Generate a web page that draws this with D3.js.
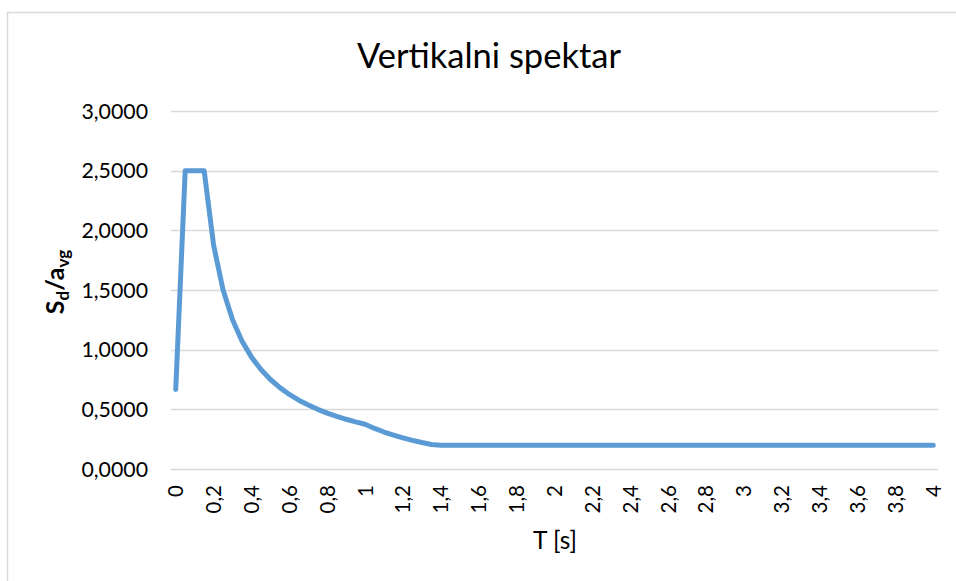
<!DOCTYPE html>
<html>
<head>
<meta charset="utf-8">
<script src="https://cdn.jsdelivr.net/npm/d3@7/dist/d3.min.js"></script>
<style>
  html, body { margin: 0; padding: 0; background: #fff; }
  svg { display: block; }
  text { font-family: Lato, "Open Sans", sans-serif; fill: #000; }
</style>
</head>
<body>
<svg id="chart" width="956" height="581"></svg>
<script>
// ---- data ----
const periods = [
  "0","0,05","0,1","0,15","0,2","0,25","0,3","0,35","0,4","0,45",
  "0,5","0,55","0,6","0,65","0,7","0,75","0,8","0,85","0,9","0,95",
  "1","1,05","1,1","1,15","1,2","1,25","1,3","1,35","1,4","1,45",
  "1,5","1,55","1,6","1,65","1,7","1,75","1,8","1,85","1,9","1,95",
  "2","2,05","2,1","2,15","2,2","2,25","2,3","2,35","2,4","2,45",
  "2,5","2,55","2,6","2,65","2,7","2,75","2,8","2,85","2,9","2,95",
  "3","3,05","3,1","3,15","3,2","3,25","3,3","3,35","3,4","3,45",
  "3,5","3,55","3,6","3,65","3,7","3,75","3,8","3,85","3,9","3,95","4"
];
const sdValues = [
  0.6667, 2.5000, 2.5000, 2.5000, 1.8750, 1.5000, 1.2500, 1.0714, 0.9375, 0.8333,
  0.7500, 0.6818, 0.6250, 0.5769, 0.5357, 0.5000, 0.4688, 0.4412, 0.4167, 0.3947,
  0.3750, 0.3401, 0.3099, 0.2836, 0.2604, 0.2400, 0.2219, 0.2058, 0.2000, 0.2000,
  0.2000, 0.2000, 0.2000, 0.2000, 0.2000, 0.2000, 0.2000, 0.2000, 0.2000, 0.2000,
  0.2000, 0.2000, 0.2000, 0.2000, 0.2000, 0.2000, 0.2000, 0.2000, 0.2000, 0.2000,
  0.2000, 0.2000, 0.2000, 0.2000, 0.2000, 0.2000, 0.2000, 0.2000, 0.2000, 0.2000,
  0.2000, 0.2000, 0.2000, 0.2000, 0.2000, 0.2000, 0.2000, 0.2000, 0.2000, 0.2000,
  0.2000, 0.2000, 0.2000, 0.2000, 0.2000, 0.2000, 0.2000, 0.2000, 0.2000, 0.2000, 0.2000
];
const xTickLabels = ["0","0,2","0,4","0,6","0,8","1","1,2","1,4","1,6","1,8","2",
                     "2,2","2,4","2,6","2,8","3","3,2","3,4","3,6","3,8","4"];
const yTicks = [0, 0.5, 1, 1.5, 2, 2.5, 3];
const chartTitle = "Vertikalni spektar";
const xTitle = "T [s]";

// ---- layout ----
const svg = d3.select("#chart");
const plot = { left: 171, right: 938, top: 111, bottom: 469 };

// chart border (Excel chart area)
svg.append("rect")
  .attr("x", 7.5).attr("y", 12.5)
  .attr("width", 1000).attr("height", 1000)
  .attr("fill", "#fff").attr("stroke", "#d9d9d9").attr("stroke-width", 1.5);

const x = d3.scaleBand().domain(periods).range([plot.left, plot.right]).padding(0);
const y = d3.scaleLinear().domain([0, 3]).range([plot.bottom, plot.top]);
const cx = d => x(d) + x.bandwidth() / 2;

// gridlines
svg.append("g").selectAll("line").data(yTicks).join("line")
  .attr("x1", plot.left).attr("x2", plot.right)
  .attr("y1", d => Math.round(y(d)) + 0.5).attr("y2", d => Math.round(y(d)) + 0.5)
  .attr("stroke", "#d9d9d9").attr("stroke-width", 1.3);

// y tick labels
const fmt = d => d3.format(".4f")(d).replace(".", ",");
svg.append("g").selectAll("text").data(yTicks).join("text")
  .attr("x", 148).attr("y", d => y(d))
  .attr("dy", "0.36em")
  .attr("text-anchor", "end")
  .attr("font-size", 21.3)
  .text(fmt);

// x tick labels (every 4th category), rotated
svg.append("g").selectAll("text").data(xTickLabels).join("text")
  .attr("transform", d => `translate(${cx(d)},485) rotate(-90)`)
  .attr("text-anchor", "end")
  .attr("dy", "0.36em")
  .attr("font-size", 20.5)
  .text(d => d);

// line
const line = d3.line()
  .x((d, i) => cx(periods[i]))
  .y(d => y(d));
svg.append("path")
  .datum(sdValues)
  .attr("d", line)
  .attr("fill", "none")
  .attr("stroke", "#5b9bd5")
  .attr("stroke-width", 5)
  .attr("stroke-linejoin", "round")
  .attr("stroke-linecap", "round");

// title
svg.append("text")
  .attr("x", 489).attr("y", 68)
  .attr("text-anchor", "middle")
  .attr("font-size", 34.5)
  .text(chartTitle);

// x axis title
svg.append("text")
  .attr("x", 555).attr("y", 549)
  .attr("text-anchor", "middle")
  .attr("font-size", 24.5)
  .text(xTitle);

// y axis title with subscripts
const yt = svg.append("text")
  .attr("transform", "translate(64,282) rotate(-90)")
  .attr("text-anchor", "middle")
  .attr("font-size", 25)
  .attr("font-weight", "bold");
yt.append("tspan").text("S");
yt.append("tspan").attr("font-size", 17).attr("dy", 5).text("d");
yt.append("tspan").attr("dy", -5).text("/a");
yt.append("tspan").attr("font-size", 17).attr("dy", 5).text("vg");
</script>
</body>
</html>
